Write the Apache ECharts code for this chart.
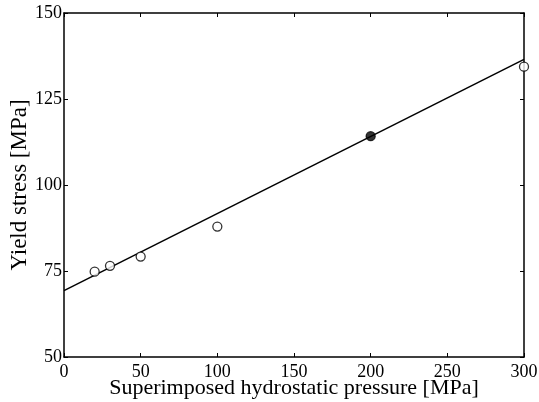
<!DOCTYPE html>
<html>
<head>
<meta charset="utf-8">
<script src="https://cdn.jsdelivr.net/npm/echarts@6/dist/echarts.min.js"></script>
<style>html,body{margin:0;padding:0;background:#fff;}#c{width:539px;height:402px;}</style>
</head>
<body>
<div id="c"></div>
<script>
const xTicks = [0, 50, 100, 150, 200, 250, 300];
const yTicks = [50, 75, 100, 125, 150];
const pressure = [20, 30, 50, 100, 200, 300];
const yieldStress = [74.8, 76.5, 79.2, 87.9, 114.2, 134.4];
const filled = [false, false, false, false, true, false];
const fitX = [0, 300];
const fitY = [69.3, 136.5];

const font = 'Liberation Serif';
const chart = echarts.init(document.getElementById('c'));
const axisCommon = {
  axisLine: {show: true, onZero: false, lineStyle: {color: '#000', width: 1.5}},
  axisTick: {show: true, inside: true, length: 4, lineStyle: {color: '#000', width: 1}},
  splitLine: {show: false}
};
chart.setOption({
  animation: false,
  grid: {left: 64, right: 15, top: 13, bottom: 45, containLabel: false, outerBoundsMode: 'none'},
  xAxis: [
    Object.assign({type: 'value', position: 'bottom', min: xTicks[0], max: xTicks[xTicks.length-1], interval: 50,
      name: 'Superimposed hydrostatic pressure [MPa]', nameLocation: 'middle', nameGap: 20, nameMoveOverlap: false,
      nameTextStyle: {fontFamily: font, fontSize: 22, color: '#000'},
      axisLabel: {fontFamily: font, fontSize: 18, color: '#000', margin: 6}}, axisCommon),
    Object.assign({type: 'value', position: 'top', min: 0, max: 300, interval: 50, axisLabel: {show: false}}, axisCommon)
  ],
  yAxis: [
    Object.assign({type: 'value', position: 'left', min: yTicks[0], max: yTicks[yTicks.length-1], interval: 25,
      name: 'Yield stress [MPa]', nameLocation: 'middle', nameGap: 33, nameMoveOverlap: false,
      nameTextStyle: {fontFamily: font, fontSize: 23, color: '#000'},
      axisLabel: {fontFamily: font, fontSize: 18, color: '#000', margin: 2}}, axisCommon),
    Object.assign({type: 'value', position: 'right', min: 50, max: 150, interval: 25, axisLabel: {show: false}}, axisCommon)
  ],
  series: [
    {type: 'line', data: fitX.map((x, i) => [x, fitY[i]]), symbol: 'none',
      lineStyle: {color: '#000', width: 1.5}, silent: true, z: 2},
    {type: 'scatter', data: pressure.map((x, i) => ({value: [x, yieldStress[i]],
        itemStyle: {color: filled[i] ? '#000' : '#fff', borderColor: '#000', borderWidth: 1.3}})),
      symbol: 'circle', symbolSize: 9, z: 3}
  ]
});
</script>
</body>
</html>
